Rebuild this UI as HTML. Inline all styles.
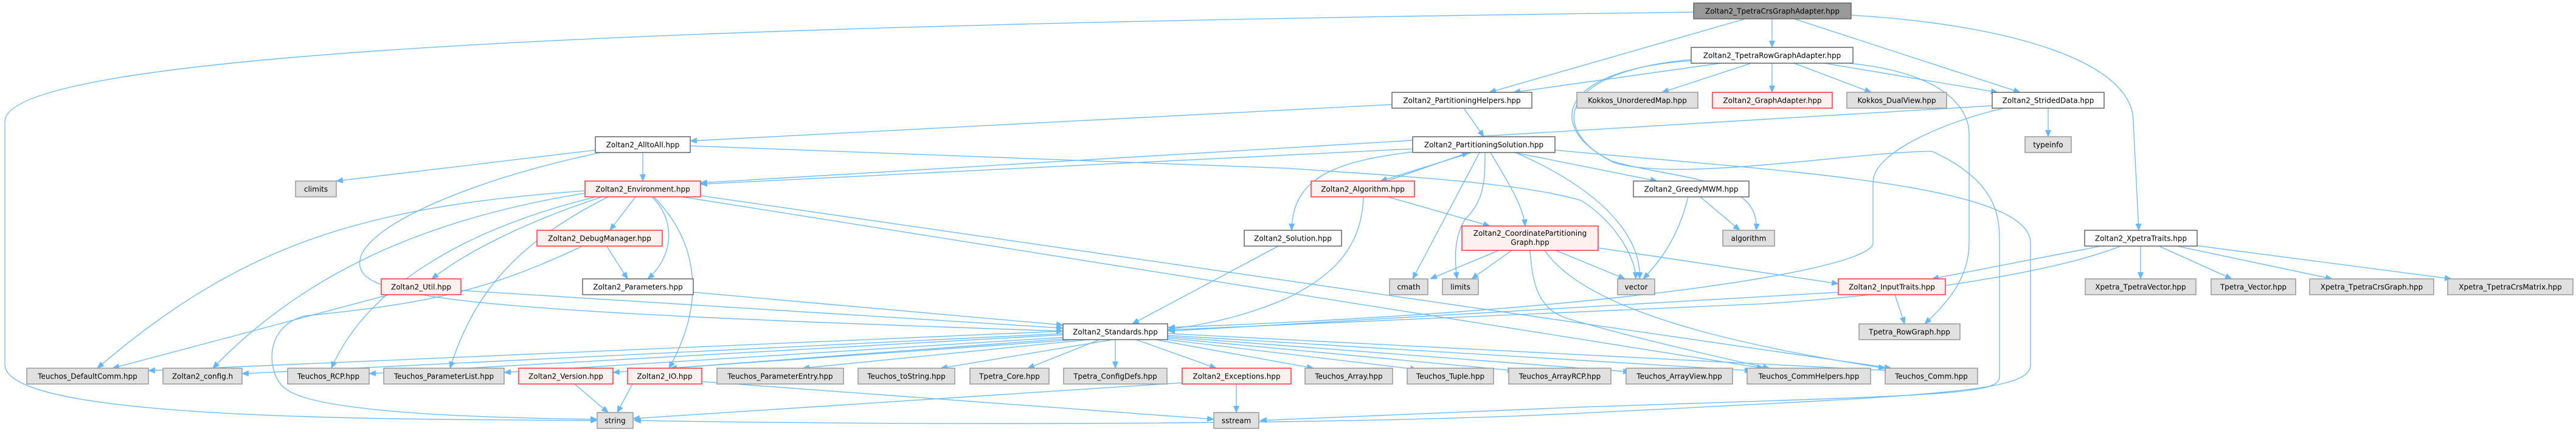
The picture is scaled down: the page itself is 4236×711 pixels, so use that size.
<!DOCTYPE html>
<html><head><meta charset="utf-8"><style>
html,body{margin:0;padding:0;background:#fff;}
svg{display:block;}
text{font-family:"DejaVu Sans","Liberation Sans",sans-serif;font-size:12px;fill:#000;}
.e{fill:none;stroke:#63B8FF;stroke-width:1.3;marker-end:url(#a);}
.w{fill:#fff;stroke:#666;stroke-width:1.5;}
.g{fill:#e0e0e0;stroke:#999;stroke-width:1.5;}
.r{fill:#fff0f0;stroke:#ff3333;stroke-width:1.5;}
.k{fill:#999;stroke:#666;stroke-width:1.5;}
</style></head><body>
<svg width="4236" height="711" viewBox="0 0 4236 711" xmlns="http://www.w3.org/2000/svg">
<defs><marker id="a" markerWidth="12" markerHeight="10" refX="11" refY="5" orient="auto" markerUnits="userSpaceOnUse"><path d="M0,0 L12,5 L0,10 z" fill="#63B8FF"/></marker></defs>

<!-- edges -->
<path class="e" d="M2785,20 C1200,40 8,80 8,200 L8,600 C8,690 600,690 982,692"/>
<path class="e" d="M2870,31 L2449,152"/>
<path class="e" d="M2914,31 L2914,78"/>
<path class="e" d="M2950,31 L3322,152"/>
<path class="e" d="M3044,25 C3300,40 3508,100 3508,200 L3517,379"/>
<path class="e" d="M2830,104 L2489,152"/>
<path class="e" d="M2880,104 L2733,152"/>
<path class="e" d="M2914,104 L2914,152"/>
<path class="e" d="M2950,104 L3077,152"/>
<path class="e" d="M3000,104 L3285,152"/>
<path class="e" d="M2781,100 C2560,115 2540,210 2650,265 C2750,295 2895,290 2888,379"/>
<path class="e" d="M3040,104 C3200,120 3238,180 3238,220 L3238,400 C3238,460 3200,500 3165,533"/>
<path class="e" d="M2781,98 C2560,118 2545,215 2655,268 C2760,300 3050,250 3177,249 C3288,300 3288,360 3288,400 L3288,620 C3288,650 3200,650 2600,670 L2072,692"/>
<path class="e" d="M2557,247 C2900,280 3339,300 3339,400 L3339,600 C3339,645 3200,650 2600,680 C2200,700 1500,700 1043,692"/>
<path class="e" d="M2407,178 L2440,225"/>
<path class="e" d="M2289,172 L1135,232"/>
<path class="e" d="M3276,174 L1152,301"/>
<path class="e" d="M3295,178 C3200,200 3080,250 3080,300 L3080,400 C3080,440 2700,510 1921,539"/>
<path class="e" d="M3368,178 L3368,225"/>
<path class="e" d="M2323,245 L1152,303"/>
<path class="e" d="M2420,251 L2270,298"/>
<path class="e" d="M2280,298 L2415,251"/>
<path class="e" d="M2323,250 C2200,265 2125,290 2124,379"/>
<path class="e" d="M2433,251 L2323,459"/>
<path class="e" d="M2442,251 C2442,300 2440,330 2410,360 C2390,390 2392,430 2396,459"/>
<path class="e" d="M2451,251 C2480,300 2505,340 2508,372"/>
<path class="e" d="M2492,251 C2650,320 2700,400 2696,459"/>
<path class="e" d="M2490,251 L2725,298"/>
<path class="e" d="M1135,240 L2118,277 C2300,290 2500,300 2600,330 C2650,360 2690,420 2690,459"/>
<path class="e" d="M2282,324 L2450,372"/>
<path class="e" d="M2242,324 C2240,400 2200,450 2118,490 C2050,520 1980,535 1921,542"/>
<path class="e" d="M2776,324 C2760,390 2730,430 2702,459"/>
<path class="e" d="M2796,324 L2861,379"/>
<path class="e" d="M2465,412 L2352,459"/>
<path class="e" d="M2486,412 L2420,459"/>
<path class="e" d="M2558,412 L2672,459"/>
<path class="e" d="M2628,408 L3023,467"/>
<path class="e" d="M2516,412 C2520,470 2530,510 2580,525 C2700,560 2880,600 2910,606"/>
<path class="e" d="M2540,412 C2600,500 2800,560 3100,606"/>
<path class="e" d="M3023,481 L1921,545"/>
<path class="e" d="M3116,485 L3132,533"/>
<path class="e" d="M3460,404 L3177,459"/>
<path class="e" d="M3490,404 C3400,440 3200,480 2900,500 L1921,543"/>
<path class="e" d="M3520,404 L3520,459"/>
<path class="e" d="M3548,404 L3670,459"/>
<path class="e" d="M3575,404 L3835,459"/>
<path class="e" d="M3610,404 L4031,459"/>
<path class="e" d="M2104,404 L1862,533"/>
<path class="e" d="M979,247 L553,298"/>
<path class="e" d="M1057,251 L1057,298"/>
<path class="e" d="M988,251 C800,290 620,360 594,420 C570,490 700,510 1748,545"/>
<path class="e" d="M1045,324 L1003,379"/>
<path class="e" d="M1072,324 C1110,360 1110,420 1065,459"/>
<path class="e" d="M1075,324 C1150,400 1160,500 1100,606"/>
<path class="e" d="M990,324 C850,370 760,420 710,459"/>
<path class="e" d="M962,314 C600,340 400,400 160,606"/>
<path class="e" d="M962,318 C700,360 500,450 350,606"/>
<path class="e" d="M980,324 C750,380 600,480 545,606"/>
<path class="e" d="M1000,324 C850,400 780,480 740,606"/>
<path class="e" d="M1122,324 L2900,606"/>
<path class="e" d="M1152,322 L3110,606"/>
<path class="e" d="M997,404 L1032,459"/>
<path class="e" d="M960,404 C800,480 700,500 500,520 C430,540 440,620 470,640 C520,680 800,688 982,690"/>
<path class="e" d="M640,485 L185,606"/>
<path class="e" d="M758,478 L1748,540"/>
<path class="e" d="M1140,481 L1748,535"/>
<path class="e" d="M1748,545 L244,610"/>
<path class="e" d="M1748,549 L398,615"/>
<path class="e" d="M1748,551 L607,615"/>
<path class="e" d="M1752,555 L829,613"/>
<path class="e" d="M1760,557 L1008,613"/>
<path class="e" d="M1770,559 L1102,606"/>
<path class="e" d="M1790,559 L1320,606"/>
<path class="e" d="M1830,559 L1547,606"/>
<path class="e" d="M1808,559 L1690,606"/>
<path class="e" d="M1834,559 L1834,606"/>
<path class="e" d="M1868,559 L2000,606"/>
<path class="e" d="M1900,559 L2160,606"/>
<path class="e" d="M1910,558 L2330,608"/>
<path class="e" d="M1915,556 L2490,610"/>
<path class="e" d="M1918,554 L2680,612"/>
<path class="e" d="M1920,552 L2880,610"/>
<path class="e" d="M1921,549 L3110,610"/>
<path class="e" d="M945,632 L1000,679"/>
<path class="e" d="M1040,632 L1015,679"/>
<path class="e" d="M1154,628 L1996,690"/>
<path class="e" d="M1944,630 L1041,689"/>
<path class="e" d="M2033,632 L2033,679"/>

<!-- nodes -->
<rect class="k" x="2785" y="5" width="259" height="26"/><text x="2914.5" y="22.5" text-anchor="middle">Zoltan2_TpetraCrsGraphAdapter.hpp</text>
<rect class="w" x="2781" y="78" width="266" height="26"/><text x="2914" y="95.5" text-anchor="middle">Zoltan2_TpetraRowGraphAdapter.hpp</text>
<rect class="w" x="2289" y="152" width="230" height="26"/><text x="2404" y="169.5" text-anchor="middle">Zoltan2_PartitioningHelpers.hpp</text>
<rect class="g" x="2593" y="152" width="199" height="26"/><text x="2692.5" y="169.5" text-anchor="middle">Kokkos_UnorderedMap.hpp</text>
<rect class="r" x="2816" y="152" width="197" height="26"/><text x="2914.5" y="169.5" text-anchor="middle">Zoltan2_GraphAdapter.hpp</text>
<rect class="g" x="3037" y="152" width="164" height="26"/><text x="3119" y="169.5" text-anchor="middle">Kokkos_DualView.hpp</text>
<rect class="w" x="3276" y="152" width="184" height="26"/><text x="3368" y="169.5" text-anchor="middle">Zoltan2_StridedData.hpp</text>
<rect class="w" x="979" y="225" width="156" height="26"/><text x="1057" y="242.5" text-anchor="middle">Zoltan2_AlltoAll.hpp</text>
<rect class="w" x="2323" y="225" width="234" height="26"/><text x="2440" y="242.5" text-anchor="middle">Zoltan2_PartitioningSolution.hpp</text>
<rect class="g" x="3330" y="225" width="76" height="26"/><text x="3368" y="242.5" text-anchor="middle">typeinfo</text>
<rect class="g" x="486" y="298" width="67" height="26"/><text x="519.5" y="315.5" text-anchor="middle">climits</text>
<rect class="r" x="962" y="298" width="190" height="26"/><text x="1057" y="315.5" text-anchor="middle">Zoltan2_Environment.hpp</text>
<rect class="r" x="2156" y="298" width="170" height="26"/><text x="2241" y="315.5" text-anchor="middle">Zoltan2_Algorithm.hpp</text>
<rect class="w" x="2686" y="298" width="190" height="26"/><text x="2781" y="315.5" text-anchor="middle">Zoltan2_GreedyMWM.hpp</text>
<rect class="r" x="883" y="379" width="206" height="26"/><text x="986" y="396.5" text-anchor="middle">Zoltan2_DebugManager.hpp</text>
<rect class="w" x="2046" y="379" width="160" height="26"/><text x="2126" y="396.5" text-anchor="middle">Zoltan2_Solution.hpp</text>
<rect class="r" x="2404" y="372" width="224" height="40"/><text x="2516" y="388" text-anchor="middle">Zoltan2_CoordinatePartitioning</text><text x="2516" y="403" text-anchor="middle">Graph.hpp</text>
<rect class="g" x="2833" y="379" width="85" height="26"/><text x="2875.5" y="396.5" text-anchor="middle">algorithm</text>
<rect class="w" x="3428" y="379" width="185" height="26"/><text x="3520.5" y="396.5" text-anchor="middle">Zoltan2_XpetraTraits.hpp</text>
<rect class="r" x="627" y="459" width="131" height="26"/><text x="692.5" y="476.5" text-anchor="middle">Zoltan2_Util.hpp</text>
<rect class="w" x="958" y="459" width="182" height="26"/><text x="1049" y="476.5" text-anchor="middle">Zoltan2_Parameters.hpp</text>
<rect class="g" x="2285" y="459" width="63" height="26"/><text x="2316.5" y="476.5" text-anchor="middle">cmath</text>
<rect class="g" x="2372" y="459" width="59" height="26"/><text x="2401.5" y="476.5" text-anchor="middle">limits</text>
<rect class="g" x="2660" y="459" width="61" height="26"/><text x="2690.5" y="476.5" text-anchor="middle">vector</text>
<rect class="r" x="3023" y="459" width="176" height="26"/><text x="3111" y="476.5" text-anchor="middle">Zoltan2_InputTraits.hpp</text>
<rect class="g" x="3429" y="459" width="182" height="26"/><text x="3520" y="476.5" text-anchor="middle">Xpetra_TpetraVector.hpp</text>
<rect class="g" x="3636" y="459" width="139" height="26"/><text x="3705.5" y="476.5" text-anchor="middle">Tpetra_Vector.hpp</text>
<rect class="g" x="3798" y="459" width="204" height="26"/><text x="3900" y="476.5" text-anchor="middle">Xpetra_TpetraCrsGraph.hpp</text>
<rect class="g" x="4025" y="459" width="206" height="26"/><text x="4128" y="476.5" text-anchor="middle">Xpetra_TpetraCrsMatrix.hpp</text>
<rect class="w" x="1748" y="533" width="172" height="26"/><text x="1834" y="550.5" text-anchor="middle">Zoltan2_Standards.hpp</text>
<rect class="g" x="3057" y="533" width="166" height="26"/><text x="3140" y="550.5" text-anchor="middle">Tpetra_RowGraph.hpp</text>
<rect class="g" x="44" y="606" width="200" height="26"/><text x="144" y="623.5" text-anchor="middle">Teuchos_DefaultComm.hpp</text>
<rect class="g" x="268" y="606" width="130" height="26"/><text x="333" y="623.5" text-anchor="middle">Zoltan2_config.h</text>
<rect class="g" x="473" y="606" width="134" height="26"/><text x="540" y="623.5" text-anchor="middle">Teuchos_RCP.hpp</text>
<rect class="g" x="631" y="606" width="198" height="26"/><text x="730" y="623.5" text-anchor="middle">Teuchos_ParameterList.hpp</text>
<rect class="r" x="853" y="606" width="155" height="26"/><text x="930.5" y="623.5" text-anchor="middle">Zoltan2_Version.hpp</text>
<rect class="r" x="1032" y="606" width="122" height="26"/><text x="1093" y="623.5" text-anchor="middle">Zoltan2_IO.hpp</text>
<rect class="g" x="1179" y="606" width="208" height="26"/><text x="1283" y="623.5" text-anchor="middle">Teuchos_ParameterEntry.hpp</text>
<rect class="g" x="1411" y="606" width="159" height="26"/><text x="1490.5" y="623.5" text-anchor="middle">Teuchos_toString.hpp</text>
<rect class="g" x="1595" y="606" width="130" height="26"/><text x="1660" y="623.5" text-anchor="middle">Tpetra_Core.hpp</text>
<rect class="g" x="1749" y="606" width="170" height="26"/><text x="1834" y="623.5" text-anchor="middle">Tpetra_ConfigDefs.hpp</text>
<rect class="r" x="1944" y="606" width="179" height="26"/><text x="2033.5" y="623.5" text-anchor="middle">Zoltan2_Exceptions.hpp</text>
<rect class="g" x="2146" y="606" width="144" height="26"/><text x="2218" y="623.5" text-anchor="middle">Teuchos_Array.hpp</text>
<rect class="g" x="2314" y="606" width="142" height="26"/><text x="2385" y="623.5" text-anchor="middle">Teuchos_Tuple.hpp</text>
<rect class="g" x="2481" y="606" width="168" height="26"/><text x="2565" y="623.5" text-anchor="middle">Teuchos_ArrayRCP.hpp</text>
<rect class="g" x="2674" y="606" width="175" height="26"/><text x="2761.5" y="623.5" text-anchor="middle">Teuchos_ArrayView.hpp</text>
<rect class="g" x="2873" y="606" width="203" height="26"/><text x="2974.5" y="623.5" text-anchor="middle">Teuchos_CommHelpers.hpp</text>
<rect class="g" x="3100" y="606" width="152" height="26"/><text x="3176" y="623.5" text-anchor="middle">Teuchos_Comm.hpp</text>
<rect class="g" x="982" y="679" width="59" height="26"/><text x="1011.5" y="696.5" text-anchor="middle">string</text>
<rect class="g" x="1996" y="679" width="74" height="26"/><text x="2033" y="696.5" text-anchor="middle">sstream</text>
</svg>
</body></html>
